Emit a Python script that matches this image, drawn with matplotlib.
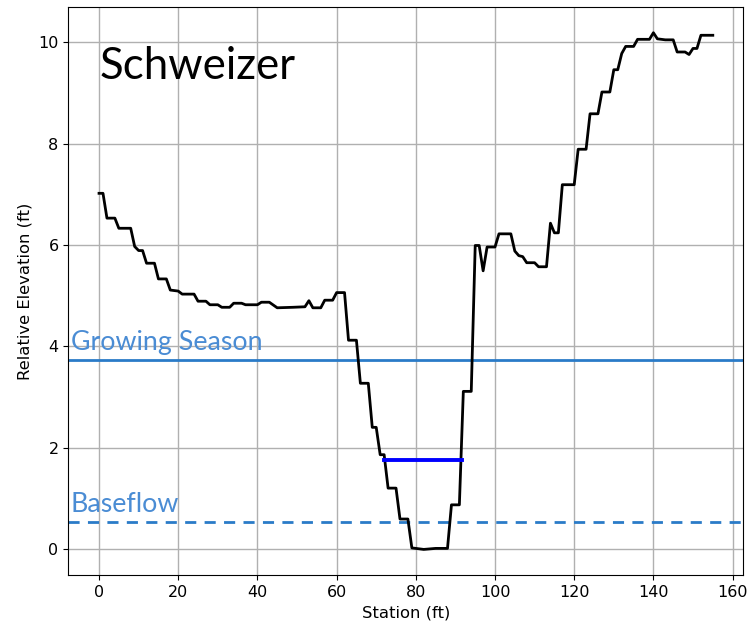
import matplotlib
matplotlib.use("Agg")
import matplotlib.pyplot as plt

station = [0, 1, 2, 4, 5, 8, 9, 10, 11, 12, 14, 15, 17, 18, 20, 21, 24, 25, 27, 28,
           30, 31, 33, 34, 36, 37, 40, 41, 43, 45, 49, 52, 53, 54, 56, 57, 59, 60, 62, 63,
           65, 66, 68, 69, 70, 71, 72, 73, 75, 76, 78, 79, 82, 85, 88, 89, 91, 92, 94, 95,
           96, 97, 98, 100, 101, 104, 105, 106, 107, 108, 110, 111, 113, 114, 115, 116, 117, 120, 121, 123,
           124, 126, 127, 129, 130, 131, 132, 133, 135, 136, 139, 140, 141, 143, 145, 146, 148, 149, 150, 151,
           152, 155]
elevation = [7.02, 7.02, 6.53, 6.53, 6.33, 6.33, 5.97, 5.89, 5.89, 5.64, 5.64, 5.33, 5.33, 5.11, 5.09, 5.03, 5.03, 4.89, 4.89, 4.82,
             4.82, 4.77, 4.77, 4.85, 4.85, 4.82, 4.82, 4.87, 4.87, 4.76, 4.77, 4.78, 4.90, 4.76, 4.76, 4.91, 4.91, 5.06, 5.06, 4.12,
             4.12, 3.27, 3.27, 2.40, 2.40, 1.86, 1.86, 1.20, 1.20, 0.59, 0.59, 0.02, -0.01, 0.01, 0.01, 0.87, 0.87, 3.11, 3.11, 5.99,
             5.99, 5.49, 5.96, 5.96, 6.22, 6.22, 5.88, 5.79, 5.77, 5.65, 5.65, 5.57, 5.57, 6.43, 6.24, 6.24, 7.19, 7.19, 7.89, 7.89,
             8.59, 8.59, 9.02, 9.02, 9.46, 9.46, 9.78, 9.92, 9.92, 10.06, 10.06, 10.19, 10.07, 10.05, 10.05, 9.81, 9.81, 9.76, 9.88, 9.88,
             10.14, 10.14]

growing_season = 3.73
baseflow = 0.53
bankfull_level = 1.76
bankfull_x = [72, 91.6]

site_name = "Schweizer"
label_growing = "Growing Season"
label_base = "Baseflow"

fig = plt.figure(figsize=(7.51, 6.28), dpi=100)
ax = fig.add_axes([0.091, 0.084, 0.899, 0.905])

ax.plot(station, elevation, color="black", lw=2, zorder=3)
ax.plot(bankfull_x, [bankfull_level, bankfull_level], color="#0000ff", lw=2.8, zorder=4)
ax.axhline(growing_season, color="#2a7bc8", lw=2, zorder=2)
ax.axhline(baseflow, color="#2a7bc8", lw=2, ls=(0, (4, 3)), zorder=2)

ax.text(-7.2, growing_season + 0.1, label_growing, color="#4a8cd4", fontsize=19.3,
        family="Lato", va="bottom", ha="left")
ax.text(-7.2, baseflow + 0.1, label_base, color="#4a8cd4", fontsize=19.3,
        family="Lato", va="bottom", ha="left")
ax.text(0.2, 9.28, site_name, color="black", fontsize=31.5, family="Lato", va="baseline", ha="left")

ax.set_xlabel("Station (ft)", fontsize=11.8)
ax.set_ylabel("Relative Elevation (ft)", fontsize=11.8)
ax.tick_params(labelsize=11.5)
ax.grid(True, color="#b0b0b0", lw=1)
ax.set_axisbelow(True)
ax.set_xticks(range(0, 161, 20))
ax.set_yticks(range(0, 11, 2))

fig.savefig("out.png", dpi=100)
